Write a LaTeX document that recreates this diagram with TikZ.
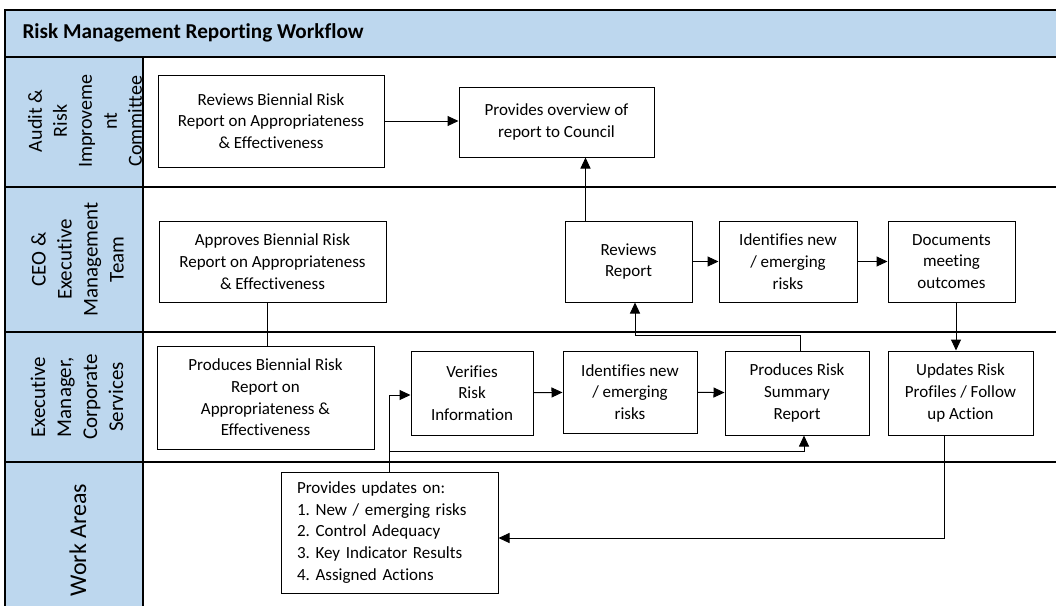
\documentclass[tikz,border=0pt]{standalone}
\usepackage{fontspec}
\setmainfont{Carlito}[Ligatures=NoCommon]
\frenchspacing
\usetikzlibrary{arrows.meta}
\definecolor{lanefill}{RGB}{189,215,238}
\begin{document}
\begin{tikzpicture}[x=1pt,y=-1pt,
  box/.style={draw=black, line width=1pt, fill=white, align=center, inner sep=2pt,
    font=\fontsize{17}{21.7}\selectfont},
  conn/.style={line width=1pt, -{Triangle[length=11pt,width=10pt]}},
  plainline/.style={line width=1pt},
  lanelabel/.style={rotate=90, align=center},
  laneline/.style={line width=2pt}]
\useasboundingbox (0,0) rectangle (1056,605);
% frame
\fill[lanefill] (5,10) rectangle (1062,57);
\fill[lanefill] (5,57) rectangle (143,612);
\node[anchor=west, font=\bfseries\fontsize{21.2}{24}\selectfont] (title) at (19,33) {Risk Management Reporting Workflow};
% lane labels
\begin{scope}
\clip (5,57) rectangle (143,187);
\node[lanelabel, font=\fontsize{20}{25}\selectfont] (l1) at (85,121) {Audit \&\\Risk\\Improveme\\nt\\Committee};
\end{scope}
\node[lanelabel, font=\fontsize{21}{26}\selectfont] (l2) at (77.5,259.5) {CEO \&\\Executive\\Management\\Team};
\node[lanelabel, font=\fontsize{21}{26}\selectfont] (l3) at (77,397) {Executive\\Manager,\\Corporate\\Services};
\node[lanelabel, font=\fontsize{24}{28}\selectfont] (l4) at (78,540) {Work Areas};
% lines
\draw[laneline] (5,612) -- (5,10) -- (1062,10);
\foreach \yy in {57,187,332,462} \draw[laneline] (5,\yy) -- (1062,\yy);
\draw[laneline] (143,57) -- (143,612);
% boxes
\node[box, minimum width=226pt, minimum height=92pt] (rb) at (271,121) {Reviews Biennial Risk\\Report on Appropriateness\\\& Effectiveness};
\node[box, minimum width=195pt, minimum height=70pt] (po) at (556.5,122) {Provides overview of\\report to Council};
\node[box, minimum width=227pt, minimum height=81pt] (ab) at (272.5,261.5) {Approves Biennial Risk\\Report on Appropriateness\\\& Effectiveness};
\node[box, minimum width=127pt, minimum height=81pt] (rr) at (628.5,261.5) {Reviews\\Report};
\node[box, minimum width=138pt, minimum height=81pt] (iu) at (788,261.5) {Identifies new\\/ emerging\\risks};
\node[box, minimum width=127pt, minimum height=81pt] (dm) at (951.5,261.5) {Documents\\meeting\\outcomes};
\node[box, minimum width=217pt, minimum height=103pt] (pb) at (265.5,397.5) {Produces Biennial Risk\\Report on\\Appropriateness \&\\Effectiveness};
\node[box, minimum width=122pt, minimum height=84pt] (vr) at (472,393) {Verifies\\Risk\\Information};
\node[box, minimum width=134pt, minimum height=82pt] (il) at (630,392) {Identifies new\\/ emerging\\risks};
\node[box, minimum width=144pt, minimum height=84pt] (ps) at (797,393) {Produces Risk\\Summary\\Report};
\node[box, minimum width=145pt, minimum height=84pt] (up) at (960.5,393) {Updates Risk\\Profiles / Follow\\up Action};
\node[box, align=left, text width=185pt, inner xsep=16pt, minimum height=121pt] (pu) at (389.5,532.5) {Provides updates on:\\1. New / emerging risks\\2. Control Adequacy\\3. Key Indicator Results\\4. Assigned Actions};
% connectors
\draw[conn] (rb.east) -- (rb.east -| po.west);
\draw[conn] ([xshift=21pt]rr.north west) -- ([xshift=21pt]rr.north west |- po.south);
\draw[conn] (rr) -- (iu);
\draw[conn] (iu) -- (dm);
\draw[conn] ([xshift=4.5pt]dm.south) -- ([xshift=4.5pt]dm.south |- up.north);
\draw[plainline] ([xshift=-5.5pt]ab.south) -- ([xshift=-5.5pt]ab.south |- pb.north);
\draw[conn] (vr) -- (il);
\draw[conn] (il) -- (ps);
\draw[conn] ([xshift=3pt]ps.north) -- ++(0,-15) -| ([xshift=6.5pt]rr.south);
\draw[conn] (pu.north) |- ([yshift=-2pt]vr.west);
\draw[conn] ([yshift=20pt]pu.north) -| ([xshift=7pt]ps.south);
\draw[conn] ([xshift=-16.5pt]up.south) |- ([yshift=-5.5pt]pu.east);
\end{tikzpicture}
\end{document}
